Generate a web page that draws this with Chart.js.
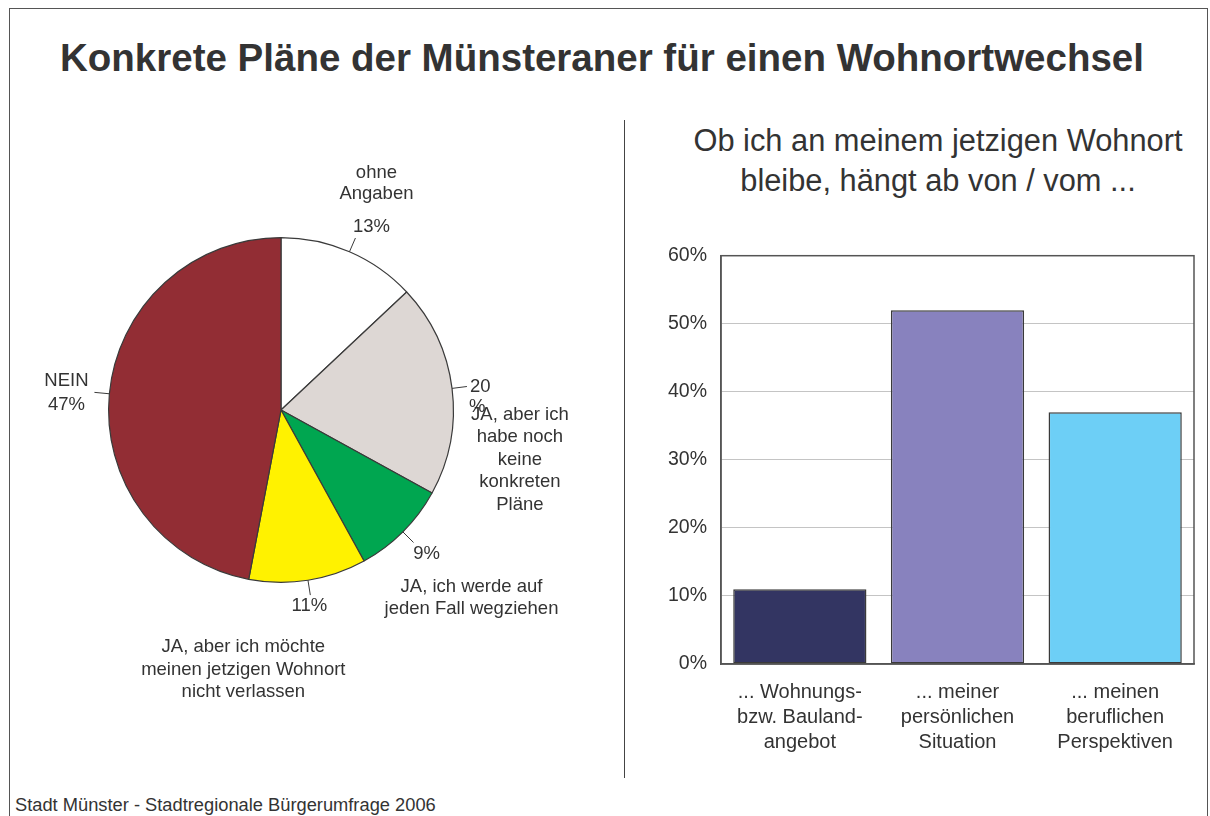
<!DOCTYPE html>
<html lang="de">
<head>
<meta charset="utf-8">
<title>Konkrete Pläne der Münsteraner für einen Wohnortwechsel</title>
<script src="https://cdn.jsdelivr.net/npm/chart.js@4.4.1/dist/chart.umd.min.js"></script>
<style>
  html, body { margin: 0; padding: 0; background: #fff; }
  body { width: 1210px; height: 816px; position: relative; overflow: hidden;
         font-family: "Liberation Sans", Arial, sans-serif; color: #333; }
  #frame { position: absolute; left: 9px; top: 8px; width: 1197px; height: 830px; border: 1.5px solid #555; }
  #title { position: absolute; left: 0; width: 1204px; top: 36px; text-align: center;
           font-weight: bold; font-size: 38.5px; line-height: 44px; }
  #divider { position: absolute; left: 624px; top: 120px; height: 658px; border-left: 1.5px solid #444; }
  #subtitle { position: absolute; left: 640px; width: 596px; top: 121px; text-align: center;
              font-size: 30.8px; line-height: 40px; }
  #footer { position: absolute; left: 15px; top: 795px; font-size: 18.3px; line-height: 20px; }
  #pieBox { position: absolute; left: 10px; top: 100px; width: 610px; height: 680px; }
  #barBox { position: absolute; left: 640px; top: 230px; width: 560px; height: 540px; }
</style>
</head>
<body>
<div id="frame"></div>
<div id="title">Konkrete Pläne der Münsteraner für einen Wohnortwechsel</div>
<div id="divider"></div>
<div id="subtitle">Ob ich an meinem jetzigen Wohnort<br>bleibe, hängt ab von / vom ...</div>
<div id="pieBox"><canvas id="pieChart"></canvas></div>
<div id="barBox"><canvas id="barChart"></canvas></div>
<div id="footer">Stadt Münster - Stadtregionale Bürgerumfrage 2006</div>

<script>
// Daten Kreisdiagramm (im Uhrzeigersinn ab 12 Uhr)
const pieNames = [
    ['ohne', 'Angaben'],
    ['JA, aber ich', 'habe noch', 'keine', 'konkreten', 'Pläne'],
    ['JA, ich werde auf', 'jeden Fall wegziehen'],
    ['JA, aber ich möchte', 'meinen jetzigen Wohnort', 'nicht verlassen'],
    ['NEIN']
];
const pieValues = [13, 20, 9, 11, 47];
const pieColors = ['#ffffff', '#ddd7d4', '#00a650', '#fff200', '#922d34'];

// Daten Balkendiagramm
const barCategories = [
    ['... Wohnungs-', 'bzw. Bauland-', 'angebot'],
    ['... meiner', 'persönlichen', 'Situation'],
    ['... meinen', 'beruflichen', 'Perspektiven']
];
const barValues = [11, 52, 37];
const barColors = ['#333562', '#8882be', '#6dcff6'];
const yTicks = [0, 10, 20, 30, 40, 50, 60];

const textColor = '#333333';
const lineColor = '#3a3a3a';
const fontFamily = '"Liberation Sans", Arial, sans-serif';

// Platzierung der Beschriftungen relativ zum Ende der Hinweislinie
const leaderLen = 15;
const pieLabelLayout = [
    { pct: [16, -11], name: [21, -65], lh: 21 },
    { pct: [3, 0], split: true, name: [53, 28], lh: 22.5 },
    { pct: [13, 11], name: [58, 44], lh: 22 },
    { pct: [-1, 11], name: [-67, 52], lh: 22.5 },
    { pct: [-28, 13], name: [-28, -11], lh: 24 }
];

const pieLabelPlugin = {
    id: 'pieLabels',
    afterDatasetsDraw(chart) {
        const ctx = chart.ctx;
        const arcs = chart.getDatasetMeta(0).data;
        ctx.save();
        ctx.font = '18.5px ' + fontFamily;
        ctx.fillStyle = textColor;
        ctx.strokeStyle = lineColor;
        ctx.lineWidth = 1;
        ctx.textBaseline = 'middle';
        arcs.forEach((arc, i) => {
            const mid = (arc.startAngle + arc.endAngle) / 2;
            const x0 = arc.x + Math.cos(mid) * arc.outerRadius;
            const y0 = arc.y + Math.sin(mid) * arc.outerRadius;
            const x1 = arc.x + Math.cos(mid) * (arc.outerRadius + leaderLen);
            const y1 = arc.y + Math.sin(mid) * (arc.outerRadius + leaderLen);
            ctx.beginPath();
            ctx.moveTo(x0, y0);
            ctx.lineTo(x1, y1);
            ctx.stroke();

            const lay = pieLabelLayout[i];
            // Prozentwert
            if (lay.split) {
                ctx.textAlign = 'left';
                ctx.fillText(String(pieValues[i]), x1 + lay.pct[0], y1 + lay.pct[1]);
                ctx.fillText('%', x1 + lay.pct[0] - 1, y1 + lay.pct[1] + 20);
            } else {
                ctx.textAlign = 'center';
                ctx.fillText(pieValues[i] + '%', x1 + lay.pct[0], y1 + lay.pct[1]);
            }
            // Kategoriename
            ctx.textAlign = 'center';
            pieNames[i].forEach((line, k) => {
                ctx.fillText(line, x1 + lay.name[0], y1 + lay.name[1] + k * lay.lh);
            });
        });
        ctx.restore();
    }
};

new Chart(document.getElementById('pieChart'), {
    type: 'pie',
    data: {
        labels: pieNames.map(n => n.join(' ')),
        datasets: [{
            data: pieValues,
            backgroundColor: pieColors,
            borderColor: lineColor,
            borderWidth: 1.2
        }]
    },
    options: {
        responsive: true,
        maintainAspectRatio: false,
        animation: false,
        layout: { padding: { left: 98, top: 137, right: 166, bottom: 197 } },
        plugins: { legend: { display: false }, tooltip: { enabled: false } }
    },
    plugins: [pieLabelPlugin]
});

// Rahmen um die Zeichenfläche
const plotBorderPlugin = {
    id: 'plotBorder',
    afterDraw(chart) {
        const { ctx, chartArea: a } = chart;
        ctx.save();
        ctx.strokeStyle = '#555555';
        ctx.lineWidth = 1.5;
        ctx.strokeRect(a.left, a.top, a.right - a.left, a.bottom - a.top);
        ctx.restore();
    }
};

new Chart(document.getElementById('barChart'), {
    type: 'bar',
    data: {
        labels: barCategories,
        datasets: [{
            data: barValues,
            backgroundColor: barColors,
            borderColor: lineColor,
            borderWidth: 1.5,
            borderSkipped: false,
            categoryPercentage: 1,
            barPercentage: 0.845
        }]
    },
    options: {
        responsive: true,
        maintainAspectRatio: false,
        animation: false,
        layout: { padding: { top: 20, right: 6, left: 0, bottom: 0 } },
        plugins: { legend: { display: false }, tooltip: { enabled: false } },
        scales: {
            y: {
                min: 0,
                max: 60,
                afterBuildTicks: s => { s.ticks = yTicks.map(v => ({ value: v })); },
                afterFit: s => { s.width = 81; },
                ticks: {
                    callback: v => v + '%',
                    color: textColor,
                    padding: 14,
                    font: { family: fontFamily, size: 19.5 }
                },
                grid: { color: '#c4c4c4', lineWidth: 1, drawTicks: false },
                border: { display: true, color: '#555555', width: 1.5 }
            },
            x: {
                afterFit: s => { s.height = 106; },
                ticks: {
                    color: textColor,
                    padding: 8,
                    maxRotation: 0,
                    font: { family: fontFamily, size: 20, lineHeight: 1.25 }
                },
                grid: { display: false },
                border: { display: true, color: '#555555', width: 1.5 }
            }
        }
    },
    plugins: [plotBorderPlugin]
});
</script>
</body>
</html>
